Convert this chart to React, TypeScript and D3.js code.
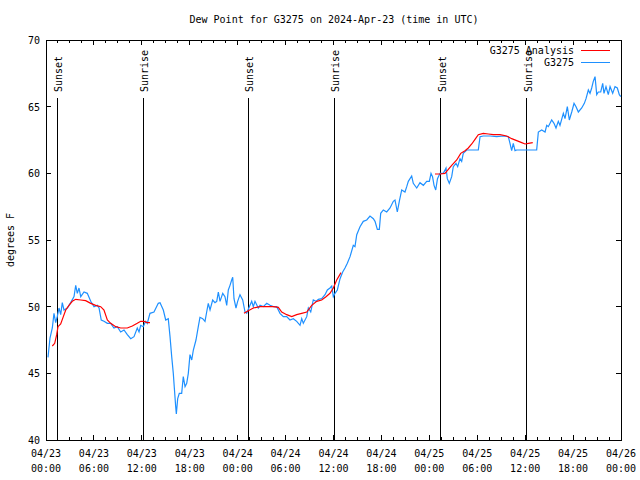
import * as d3 from "d3";

// hours after 2024-04-23 00:00 UTC
const stationHours = [
  0.25, 0.5, 0.79, 1.0, 1.21, 1.41, 1.63, 1.84, 2.04, 2.25, 2.67, 3.09, 3.51, 3.72, 3.92, 4.13, 4.35, 4.76, 5.17, 5.6,
  6.01, 6.42, 6.64, 6.92, 7.26, 7.68, 8.1, 8.51, 8.93, 9.35, 9.77, 10.18, 10.61, 11.02, 11.43, 11.65, 11.86, 12.18, 12.48, 12.68,
  13.02, 13.52, 14.06, 14.28, 14.69, 14.99, 15.31, 15.53, 15.74, 15.94, 16.07, 16.24, 16.32, 16.49, 16.69, 16.99, 17.19, 17.41, 17.62, 17.82,
  18.03, 18.25, 18.45, 18.78, 19.07, 19.28, 19.62, 19.91, 20.12, 20.32, 20.54, 20.87, 21.16, 21.38, 21.58, 21.79, 22.13, 22.41, 22.63, 22.83,
  23.04, 23.25, 23.38, 23.54, 23.79, 24.0, 24.29, 24.63, 24.92, 25.13, 25.46, 25.76, 25.96, 26.17, 26.58, 26.8, 27.21, 27.64, 28.05, 28.46,
  28.89, 29.3, 29.72, 30.14, 30.55, 30.97, 31.39, 31.81, 32.02, 32.22, 32.65, 32.85, 33.15, 33.47, 33.81, 34.1, 34.52, 34.94, 35.23, 35.56,
  35.78, 35.98, 36.19, 36.48, 36.82, 37.15, 37.44, 37.73, 38.07, 38.48, 38.69, 38.91, 39.32, 39.73, 40.16, 40.57, 40.99, 41.2, 41.49, 41.74,
  41.91, 42.24, 42.66, 43.08, 43.49, 43.7, 43.99, 44.24, 44.54, 44.95, 45.17, 45.37, 45.79, 45.99, 46.42, 46.83, 47.25, 47.67, 48.0, 48.21,
  48.4, 48.59, 48.8, 49.02, 49.34, 49.75, 50.09, 50.25, 50.5, 50.8, 51.0, 51.34, 51.55, 51.84, 52.05, 52.25, 52.68, 54.13, 54.35, 54.76,
  55.6, 56.44, 57.27, 57.89, 58.1, 58.31, 58.51, 58.73, 58.94, 61.44, 61.65, 62.07, 62.49, 62.7, 62.9, 63.32, 63.61, 63.86, 64.15, 64.36,
  64.78, 64.99, 65.28, 65.53, 65.83, 66.12, 66.37, 66.66, 67.08, 67.41, 67.62, 67.91, 68.12, 68.33, 68.53, 68.75, 68.96, 69.16, 69.46, 69.71,
  69.87, 70.12, 70.41, 70.63, 70.96, 71.25, 71.54, 71.79, 71.97,
];
const stationValues = [
  46.2, 47.65, 48.4, 49.5, 48.8, 49.25, 49.9, 49.4, 50.3, 49.75, 49.9, 50.3, 50.75, 51.6, 51.0, 51.4, 50.75, 51.1, 51.0, 50.4,
  50.0, 50.1, 49.9, 49.0, 48.9, 48.75, 48.75, 48.4, 48.5, 48.1, 48.25, 47.9, 47.6, 47.75, 48.4, 48.1, 48.6, 48.5, 48.9, 48.75,
  49.5, 49.6, 50.25, 50.3, 49.75, 49.0, 49.1, 47.75, 46.25, 45.0, 43.9, 42.5, 41.95, 43.1, 43.5, 43.5, 44.75, 44.0, 44.25, 45.0,
  46.4, 46.0, 46.75, 47.5, 48.5, 49.2, 49.1, 48.9, 49.6, 50.25, 49.75, 50.5, 50.3, 50.4, 51.1, 50.4, 51.0, 50.75, 50.1, 51.25,
  51.6, 52.0, 52.2, 50.6, 49.9, 50.4, 50.9, 50.5, 49.6, 49.5, 50.0, 50.4, 50.0, 50.4, 49.9, 50.1, 50.0, 50.25, 50.1, 50.0,
  50.0, 49.5, 49.25, 49.25, 49.0, 49.1, 48.9, 48.6, 49.1, 48.75, 49.25, 49.9, 49.6, 50.5, 50.4, 50.55, 50.6, 50.9, 51.25, 51.4,
  51.55, 50.75, 51.0, 51.25, 52.1, 52.6, 52.9, 53.25, 53.75, 54.6, 54.5, 55.4, 56.0, 56.4, 56.5, 56.8, 56.6, 56.4, 55.8, 55.8,
  57.0, 57.25, 57.1, 57.4, 57.9, 58.0, 57.1, 57.9, 58.75, 58.6, 59.0, 59.4, 59.8, 59.25, 58.9, 59.3, 59.1, 59.4, 59.4, 60.0,
  59.75, 59.1, 58.75, 59.6, 60.0, 60.0, 60.4, 59.6, 59.25, 59.75, 60.5, 60.75, 60.5, 61.1, 60.9, 61.5, 61.75, 61.75, 62.75, 62.8,
  62.8, 62.75, 62.8, 62.75, 62.25, 61.7, 62.25, 61.7, 61.75, 61.75, 63.1, 63.25, 63.1, 63.6, 63.5, 64.0, 63.75, 63.4, 63.9, 63.6,
  64.5, 64.1, 65.0, 64.0, 64.6, 65.25, 65.0, 64.6, 64.9, 65.25, 65.6, 66.25, 66.0, 66.4, 66.9, 67.25, 65.9, 66.1, 66.1, 66.75,
  66.0, 66.5, 65.9, 66.5, 66.0, 66.5, 66.4, 65.9, 65.75,
];

const analysisNight1Hours = [0.79, 1.09, 1.34, 1.5, 1.84, 2.17, 2.47, 2.88, 3.29, 3.72, 4.35, 4.97, 5.6, 6.22, 6.85, 7.26, 7.68, 8.1, 8.73, 9.35, 10.18, 10.81, 11.43, 11.86, 12.27, 12.68, 13.02];
const analysisNight1Values = [47.05, 47.25, 47.9, 48.5, 48.7, 49.25, 49.75, 50.1, 50.4, 50.55, 50.5, 50.45, 50.25, 50.1, 50.0, 49.75, 49.0, 48.75, 48.5, 48.4, 48.4, 48.55, 48.75, 48.9, 48.9, 48.8, 48.8];
const analysisNight2Hours = [24.79, 25.33, 25.96, 26.8, 27.64, 28.46, 29.09, 29.52, 30.14, 30.77, 31.39, 32.02, 32.65, 33.27, 33.9, 34.52, 35.06, 35.56, 35.98, 36.4, 36.94];
const analysisNight2Values = [49.5, 49.7, 49.9, 50.0, 50.0, 50.0, 49.95, 49.6, 49.4, 49.25, 49.4, 49.5, 49.6, 50.1, 50.4, 50.5, 50.75, 51.0, 51.4, 52.0, 52.55];
const analysisNight3Hours = [48.71, 49.34, 49.96, 50.38, 50.8, 51.43, 51.93, 52.47, 52.88, 53.31, 53.72, 54.13, 54.76, 55.39, 56.01, 56.85, 57.69, 58.31, 58.94, 59.57, 59.98, 60.4, 60.95];
const analysisNight3Values = [59.95, 59.95, 60.0, 60.3, 60.6, 61.0, 61.5, 61.7, 61.9, 62.2, 62.55, 62.9, 63.0, 62.95, 62.9, 62.9, 62.8, 62.6, 62.45, 62.3, 62.2, 62.25, 62.3];

const sunEventHours = [1.42, 12.18, 25.35, 36.1, 49.4, 60.18];
const sunEventLabels = ["Sunset", "Sunrise", "Sunset", "Sunrise", "Sunset", "Sunrise"];

const yTicks = [40, 45, 50, 55, 60, 65, 70];

const start = Date.UTC(2024, 3, 23, 0, 0);
const toDate = (h: number) => new Date(start + h * 3600 * 1000);

const W = 640, H = 480;
const left = 46, right = 621, top = 40, bottom = 440;
const font = "'DejaVu Sans Mono', monospace";

export default function App() {
  const x = d3.scaleUtc().domain([toDate(0), toDate(72)]).range([left, right]);
  const y = d3.scaleLinear().domain([40, 70]).range([bottom, top]);

  const line = d3.line<[number, number]>()
    .x(d => x(toDate(d[0])))
    .y(d => y(d[1]));

  const zip = (hs: number[], vs: number[]) => hs.map((h, i) => [h, vs[i]] as [number, number]);
  const station = zip(stationHours, stationValues);
  const nights = [
    zip(analysisNight1Hours, analysisNight1Values),
    zip(analysisNight2Hours, analysisNight2Values),
    zip(analysisNight3Hours, analysisNight3Values),
  ];

  const majorTicks = x.ticks(d3.utcHour.every(6)!);
  const minorTicks = d3.range(0, 72.01, 1.5).map(toDate);
  const fmtDay = d3.utcFormat("%m/%d");
  const fmtTime = d3.utcFormat("%H:%M");

  return (
    <svg width={W} height={H} style={{position: "absolute", left: 0, top: 0, background: "#fff"}}
         fontFamily={font} fontSize={10}>
      <rect width={W} height={H} fill="#fff"/>
      <text x={334} y={23} textAnchor="middle">Dew Point for G3275 on 2024-Apr-23 (time in UTC)</text>

      <g shapeRendering="crispEdges" stroke="#000">
        {yTicks.map(t => (
          <g key={t}>
            <line x1={left} x2={left + 5} y1={y(t)} y2={y(t)}/>
            <line x1={right - 5} x2={right} y1={y(t)} y2={y(t)}/>
          </g>
        ))}
        {minorTicks.map((t, i) => (
          <g key={i}>
            <line x1={x(t)} x2={x(t)} y1={bottom} y2={bottom - 3}/>
            <line x1={x(t)} x2={x(t)} y1={top} y2={top + 3}/>
          </g>
        ))}
        {majorTicks.map((t, i) => (
          <g key={i}>
            <line x1={x(t)} x2={x(t)} y1={bottom} y2={bottom - 5}/>
            <line x1={x(t)} x2={x(t)} y1={top} y2={top + 5}/>
          </g>
        ))}
        <rect x={left} y={top} width={right - left} height={bottom - top} fill="none"/>
      </g>

      {yTicks.map(t => (
        <text key={t} x={40} y={y(t) + 4} textAnchor="end">{t}</text>
      ))}
      {majorTicks.map((t, i) => (
        <text key={i} x={x(t)} textAnchor="middle">
          <tspan x={x(t)} y={457}>{fmtDay(t)}</tspan>
          <tspan x={x(t)} y={472}>{fmtTime(t)}</tspan>
        </text>
      ))}
      <text transform={`translate(14,${(top + bottom) / 2}) rotate(-90)`} textAnchor="middle">degrees F</text>

      {sunEventHours.map((h, i) => {
        const sx = x(toDate(h));
        return (
          <g key={i}>
            <line x1={sx} x2={sx} y1={bottom} y2={98} stroke="#000" shapeRendering="crispEdges"/>
            <text transform={`translate(${sx + 1.5},92) rotate(-90)`} dy="0.35em">{sunEventLabels[i]}</text>
          </g>
        );
      })}

      <path d={line(station) ?? ""} fill="none" stroke="#1e90ff" strokeWidth={1.2}/>
      {nights.map((n, i) => (
        <path key={i} d={line(n) ?? ""} fill="none" stroke="#ff0000" strokeWidth={1.2}/>
      ))}

      <text x={574} y={54} textAnchor="end">G3275 Analysis</text>
      <line x1={581} x2={610} y1={50} y2={50} stroke="#ff0000" shapeRendering="crispEdges"/>
      <text x={574} y={66} textAnchor="end">G3275</text>
      <line x1={581} x2={610} y1={62} y2={62} stroke="#1e90ff" shapeRendering="crispEdges"/>
    </svg>
  );
}
